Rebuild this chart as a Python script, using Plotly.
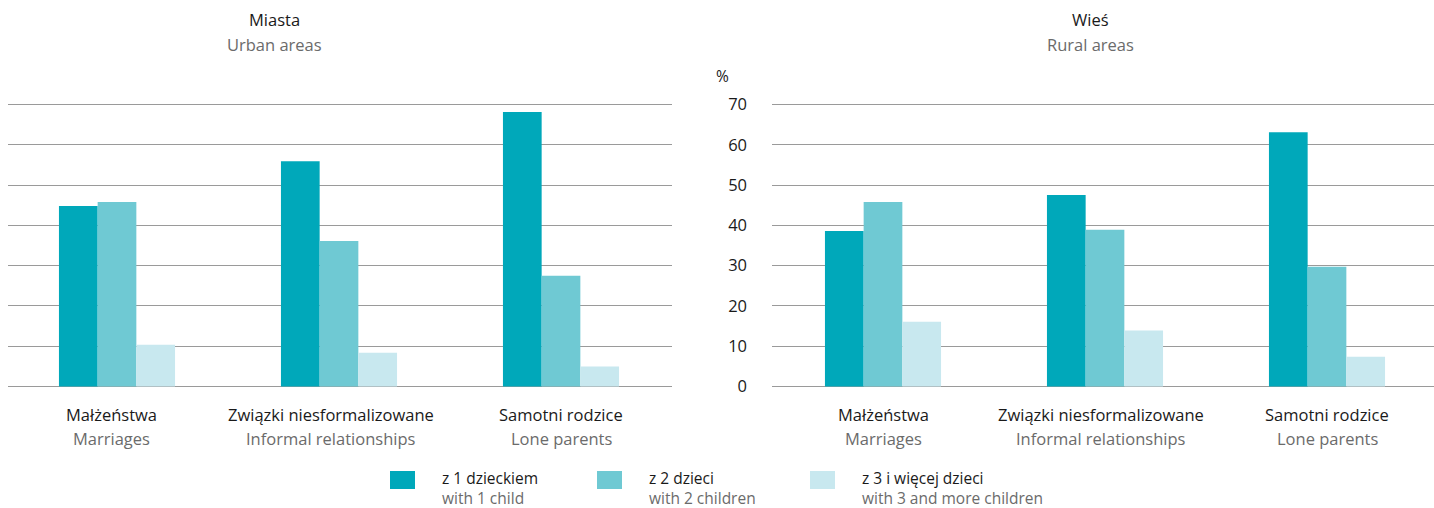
import plotly.graph_objects as go
from plotly.subplots import make_subplots

# Household type categories (Polish / English)
categories_pl = ["Małżeństwa", "Związki niesformalizowane", "Samotni rodzice"]
categories_en = ["Marriages", "Informal relationships", "Lone parents"]

# Share of families by number of children, %
urban_1_child = [44.8, 55.9, 68.1]
urban_2_children = [45.8, 36.1, 27.5]
urban_3plus_children = [10.4, 8.4, 5.0]

rural_1_child = [38.6, 47.5, 63.1]
rural_2_children = [45.8, 38.9, 29.7]
rural_3plus_children = [16.1, 13.9, 7.4]

series_pl = ["z 1 dzieckiem", "z 2 dzieci", "z 3 i więcej dzieci"]
series_en = ["with 1 child", "with 2 children", "with 3 and more children"]
colors = ["#00A8BA", "#6FC9D3", "#C8E8EF"]

y_ticks = [0, 10, 20, 30, 40, 50, 60, 70]

W, H = 1434, 508
M_L, M_R, M_T, M_B = 0, 0, 102, 119
FONT = "Open Sans"
DARK = "#1a1a1a"
GRAY = "#6b6b6b"
FS = 16.5
FS_LEG = 15.5

# category spacing in pixels and first category centre of each panel
SLOT = 222


def px_x(px):
    return (px - M_L) / (W - M_L - M_R)


def px_y(py):
    return (H - M_B - py) / (H - M_T - M_B)


def cat_range(left_px, right_px, first_center_px):
    start = -(first_center_px - left_px) / SLOT
    return [start, start + (right_px - left_px) / SLOT]


fig = make_subplots(rows=1, cols=2)
fig.update_layout(
    xaxis=dict(domain=[px_x(8), px_x(672)], range=cat_range(8, 672, 117)),
    xaxis2=dict(domain=[px_x(772), 1], range=cat_range(772, 1434, 883)),
)

panels = [
    (1, [urban_1_child, urban_2_children, urban_3plus_children]),
    (2, [rural_1_child, rural_2_children, rural_3plus_children]),
]
for col, values in panels:
    for name, vals, color in zip(series_pl, values, colors):
        fig.add_trace(
            go.Bar(x=categories_pl, y=vals, name=name, marker_color=color,
                   marker_line_width=0, showlegend=False),
            row=1, col=col,
        )

fig.update_layout(
    width=W, height=H,
    margin=dict(l=M_L, r=M_R, t=M_T, b=M_B),
    paper_bgcolor="white", plot_bgcolor="white",
    barmode="group", bargap=0.477, bargroupgap=0,
    font=dict(family=FONT, size=FS, color=DARK),
)

# padding so the 0 and 70 gridlines sit inside the plot area
Y_RANGE = [-0.6, 70.6]
for col in (1, 2):
    fig.update_xaxes(showticklabels=False, showgrid=False, zeroline=False,
                     showline=False, row=1, col=col)
    fig.update_yaxes(range=Y_RANGE, tickvals=y_ticks, showgrid=True,
                     gridcolor="#9a9a9a", gridwidth=1.2, zeroline=False,
                     showline=False, layer="below traces", row=1, col=col)
fig.update_yaxes(showticklabels=False, row=1, col=1)
fig.update_yaxes(showticklabels=True, ticks="", ticklabelstandoff=24,
                 tickfont=dict(size=FS, color=DARK), row=1, col=2)

annotations = []

# Category labels beneath each panel (small horizontal nudges per label)
label_shifts = {"x": [-6, -8, 0], "x2": [0, -4, 0]}
for xref, shifts in label_shifts.items():
    for pl, en, dx in zip(categories_pl, categories_en, shifts):
        annotations.append(dict(x=pl, y=px_y(414), xref=xref, yref="paper",
                                text=pl, showarrow=False, yanchor="middle",
                                xanchor="center", xshift=dx,
                                font=dict(size=FS, color=DARK)))
        annotations.append(dict(x=pl, y=px_y(438), xref=xref, yref="paper",
                                text=en, showarrow=False, yanchor="middle",
                                xanchor="center", xshift=dx,
                                font=dict(size=FS, color=GRAY)))

# Panel titles
for cx, pl, en in [(274, "Miasta", "Urban areas"), (1090, "Wieś", "Rural areas")]:
    annotations.append(dict(x=px_x(cx), y=px_y(20), xref="paper", yref="paper",
                            text=pl, showarrow=False, yanchor="middle",
                            xanchor="center", font=dict(size=FS, color=DARK)))
    annotations.append(dict(x=px_x(cx), y=px_y(44), xref="paper", yref="paper",
                            text=en, showarrow=False, yanchor="middle",
                            xanchor="center", font=dict(size=FS, color=GRAY)))

# Unit label
annotations.append(dict(x=px_x(722), y=px_y(76), xref="paper", yref="paper",
                        text="%", showarrow=False, yanchor="middle",
                        xanchor="center", font=dict(size=FS - 1, color=DARK)))

# Legend: swatches and two-line labels
shapes = []
legend_x = [390, 597, 810]
for lx, color, pl, en in zip(legend_x, colors, series_pl, series_en):
    shapes.append(dict(type="rect", xref="paper", yref="paper",
                       x0=px_x(lx), x1=px_x(lx + 25), y0=px_y(489), y1=px_y(471),
                       fillcolor=color, line_width=0))
    annotations.append(dict(x=px_x(lx + 50), y=px_y(487.5), xref="paper", yref="paper",
                            text=f"{pl}<br><span style='color:{GRAY}'>{en}</span>",
                            showarrow=False, xanchor="left", yanchor="middle",
                            align="left", font=dict(size=FS_LEG, color=DARK)))

fig.update_layout(annotations=annotations, shapes=shapes)

fig.write_html("out.html")
